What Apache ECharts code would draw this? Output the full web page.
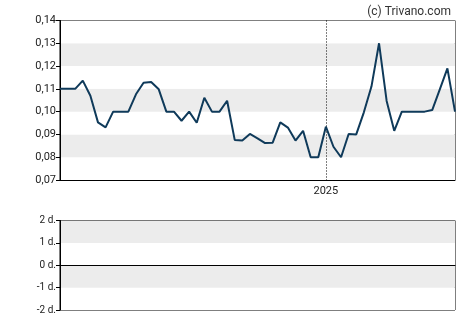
<!DOCTYPE html>
<html><head><meta charset="utf-8">
<script src="https://cdn.jsdelivr.net/npm/echarts@6/dist/echarts.min.js"></script>
<style>html,body{margin:0;padding:0;background:#fff}#c{width:470px;height:325px}</style>
</head><body><div id="c"></div>
<script>
const dates = ['2024-05-03','2024-05-10','2024-05-17','2024-05-24','2024-05-31','2024-06-07','2024-06-14','2024-06-21','2024-06-28','2024-07-05',
'2024-07-12','2024-07-19','2024-07-26','2024-08-02','2024-08-09','2024-08-16','2024-08-23','2024-08-30','2024-09-06','2024-09-13',
'2024-09-20','2024-09-27','2024-10-04','2024-10-11','2024-10-18','2024-10-25','2024-11-01','2024-11-08','2024-11-15','2024-11-22',
'2024-11-29','2024-12-06','2024-12-13','2024-12-20','2024-12-27','2025-01-03','2025-01-10','2025-01-17','2025-01-24','2025-01-31',
'2025-02-07','2025-02-14','2025-02-21','2025-02-28','2025-03-07','2025-03-14','2025-03-21','2025-03-28','2025-04-04','2025-04-11',
'2025-04-18','2025-04-25','2025-05-02'];
const prices = [0.110,0.110,0.110,0.1136,0.107,0.0953,0.0931,0.100,0.100,0.100,
0.1076,0.1127,0.113,0.1098,0.100,0.100,0.096,0.100,0.0951,0.1061,
0.100,0.100,0.1048,0.0876,0.0873,0.0902,0.0883,0.0862,0.0864,0.0953,
0.093,0.0873,0.0916,0.080,0.080,0.0934,0.0846,0.080,0.0902,0.090,
0.0997,0.111,0.130,0.1047,0.0916,0.100,0.100,0.100,0.100,0.1007,
0.1098,0.119,0.100];
const priceTicks = [0.07,0.08,0.09,0.10,0.11,0.12,0.13,0.14];
const dayTicks = [-2,-1,0,1,2];
const copyright = '(c) Trivano.com';

const yearStart = dates.findIndex((d,i)=> i>0 && d.slice(0,4)!==dates[i-1].slice(0,4));
const isYearStart = (idx)=> idx===yearStart;
const font = 'Roboto, "Liberation Sans", Arial, sans-serif';

const chart = echarts.init(document.getElementById('c'), null, {renderer:'canvas'});
chart.setOption({
  animation:false,
  backgroundColor:'#fff',
  title:{text:copyright, right:14, top:1, textStyle:{fontFamily:font, fontSize:12, fontWeight:'normal', color:'#333'}},
  grid:[
    {left:60, top:20.5, width:395, height:159.5, show:true, borderColor:'#000', borderWidth:1, backgroundColor:'transparent'},
    {left:60, top:220.5, width:395, height:89.5, show:true, borderColor:'#000', borderWidth:1, backgroundColor:'transparent'}
  ],
  xAxis:[
    {type:'category', gridIndex:0, data:dates, boundaryGap:false,
     axisLine:{show:true, onZero:false, lineStyle:{color:'#000'}},
     axisTick:{show:false},
     axisLabel:{interval:(i)=>isYearStart(i), formatter:(v)=>v.slice(0,4), fontFamily:font, fontSize:11, color:'#222', margin:6},
     splitLine:{show:true, interval:(i)=>isYearStart(i), lineStyle:{color:'#000', type:[1,2], width:1}}},
    {type:'category', gridIndex:1, data:dates, boundaryGap:false,
     axisLine:{show:true, onZero:true, lineStyle:{color:'#000'}},
     axisTick:{show:false}, axisLabel:{show:false}, splitLine:{show:false}}
  ],
  yAxis:[
    {type:'value', gridIndex:0, min:priceTicks[0], max:priceTicks[priceTicks.length-1], interval:0.01,
     axisLine:{show:true, lineStyle:{color:'#000'}},
     axisTick:{show:true, length:4, lineStyle:{color:'#000'}},
     axisLabel:{formatter:(v)=>v.toFixed(2).replace('.',','), fontFamily:font, fontSize:11, color:'#222', margin:4},
     splitLine:{show:false},
     splitArea:{show:true, areaStyle:{color:['#ffffff','#ececec']}}},
    {type:'value', gridIndex:1, min:dayTicks[0], max:dayTicks[dayTicks.length-1], interval:1,
     axisLine:{show:true, lineStyle:{color:'#000'}},
     axisTick:{show:true, length:4, lineStyle:{color:'#000'}},
     axisLabel:{formatter:(v)=>v+' d.', fontFamily:font, fontSize:10, color:'#222', margin:4},
     splitLine:{show:false},
     splitArea:{show:true, areaStyle:{color:['#ffffff','#ececec']}}}
  ],
  series:[
    {type:'line', xAxisIndex:0, yAxisIndex:0, data:prices, showSymbol:false, symbol:'none',
     lineStyle:{color:'#0f3a5a', width:2}, z:5},
    {type:'line', xAxisIndex:1, yAxisIndex:1, data:[], showSymbol:false}
  ]
});
</script></body></html>
